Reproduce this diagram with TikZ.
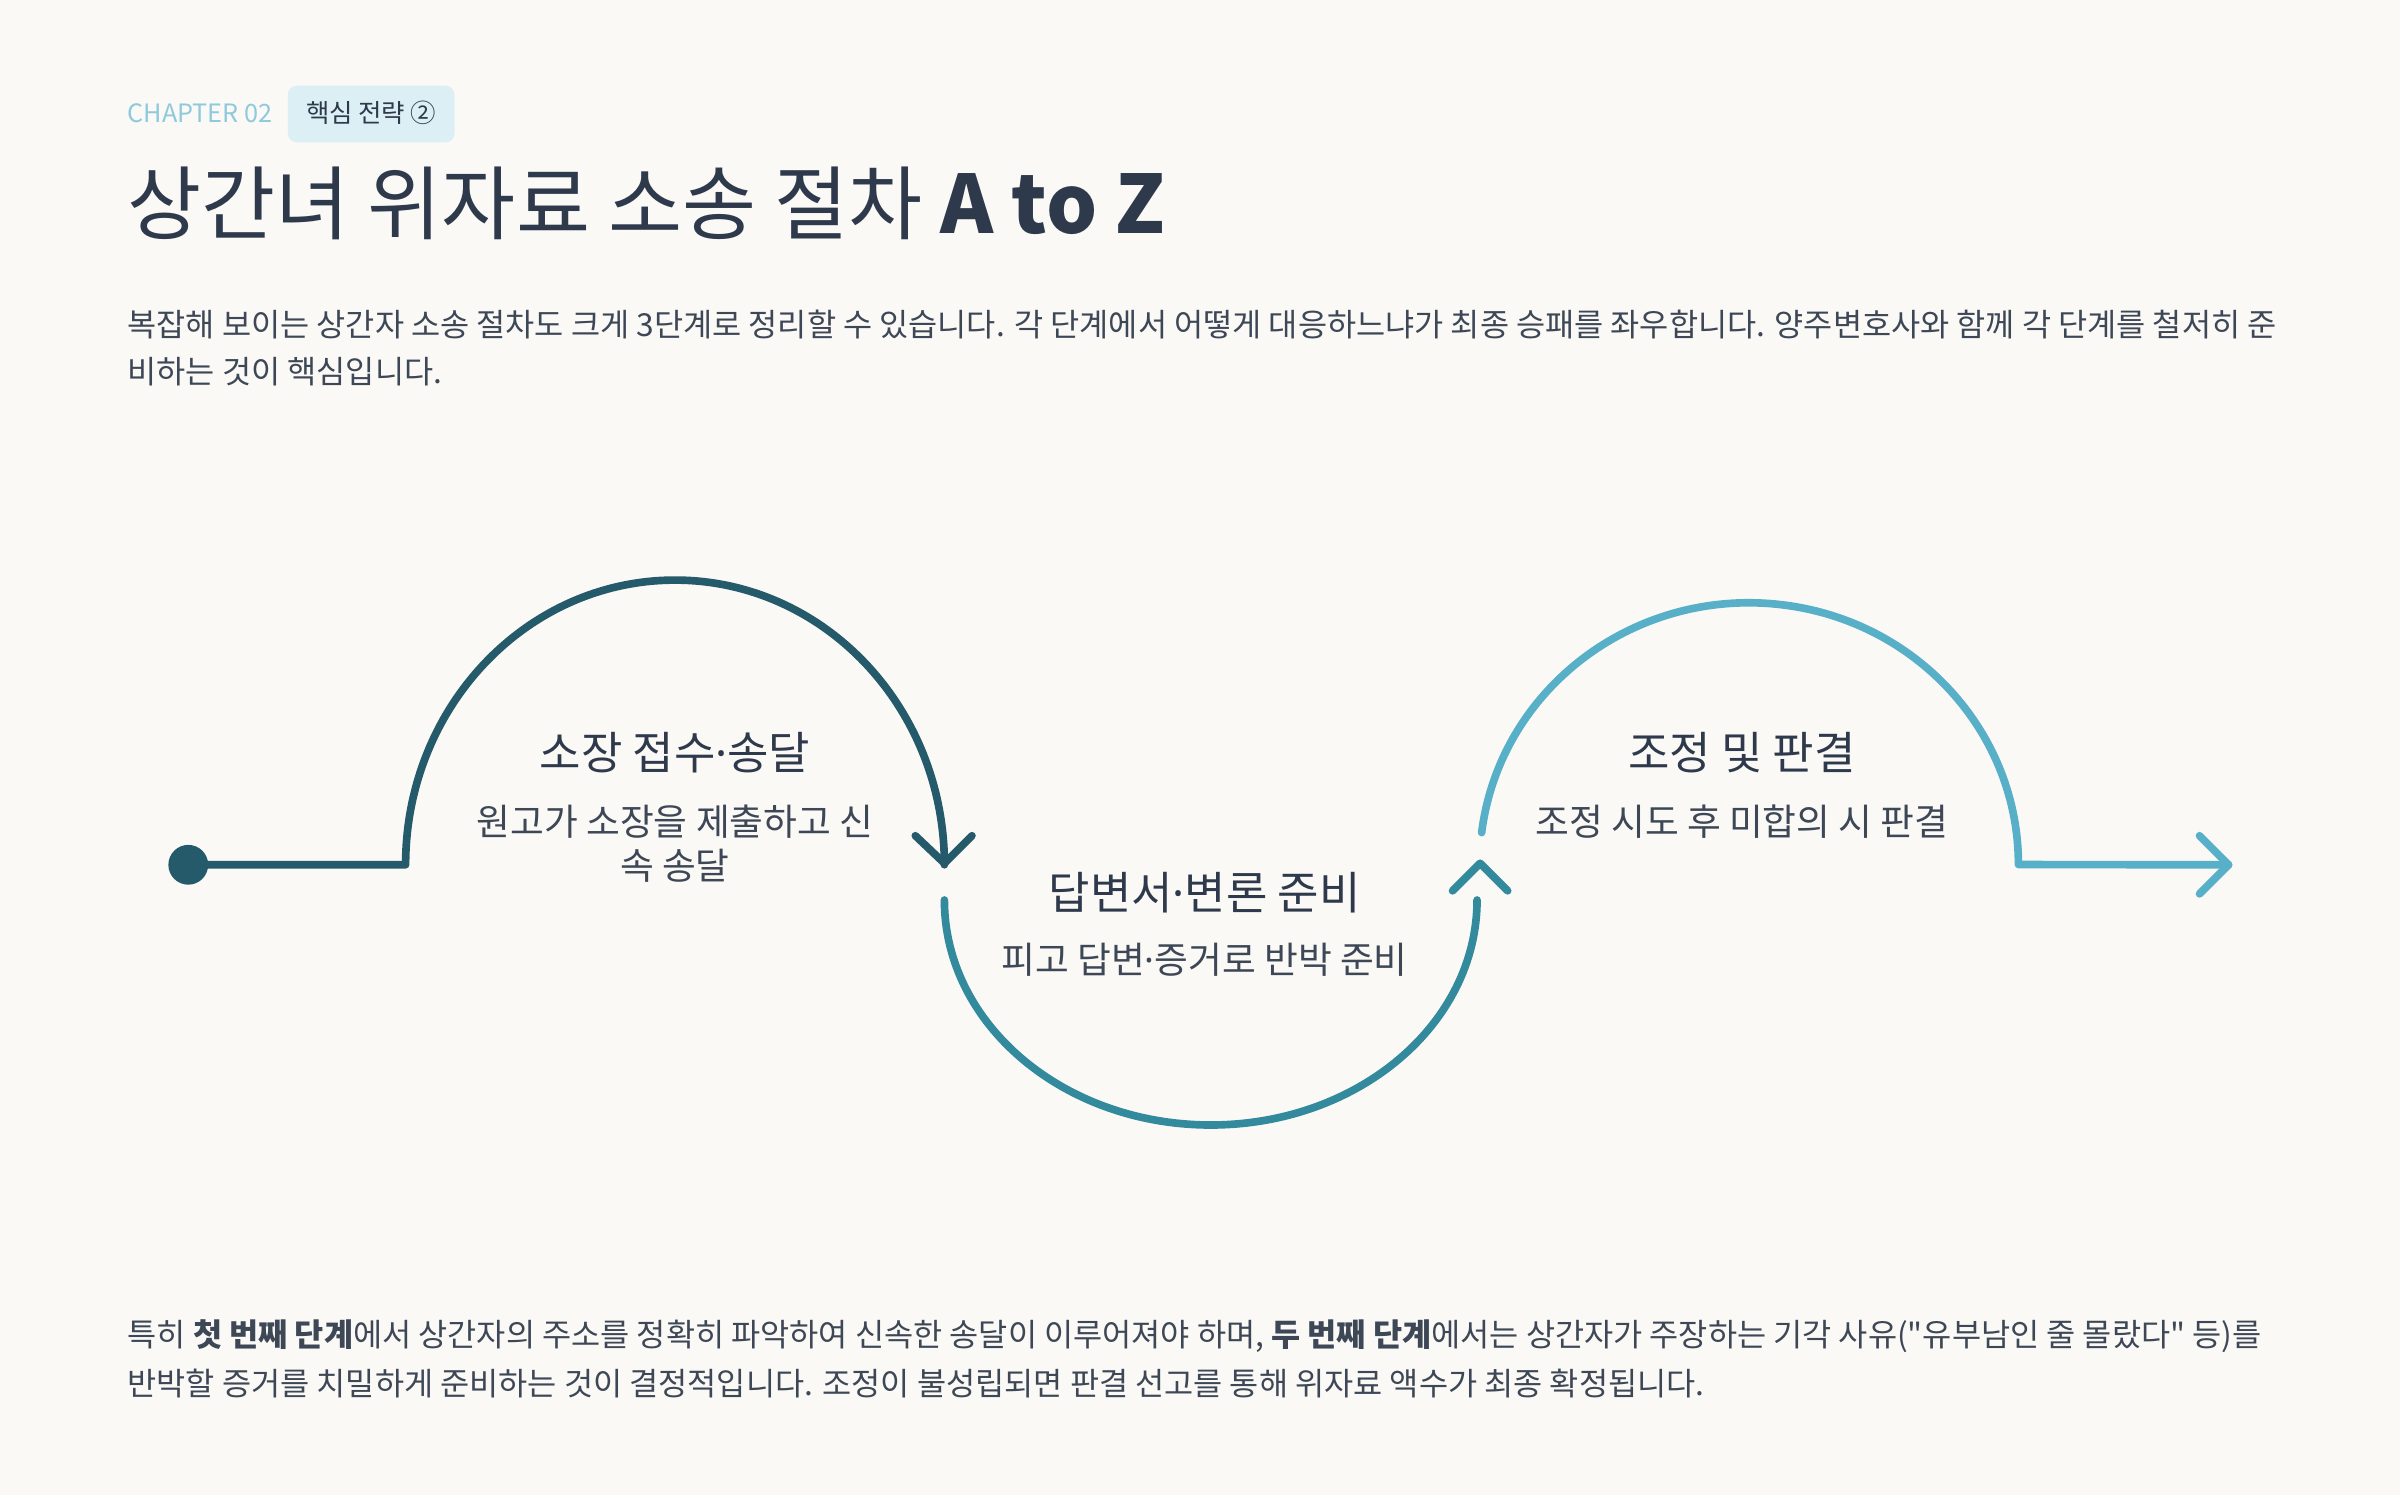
\documentclass[tikz,border=0pt]{standalone}
\usepackage{fontspec}
\setmainfont{Noto Sans CJK KR}[Ligatures=TeXOff]
\newfontfamily\latin{Noto Sans}
\newcommand{\md}{{\latin ·}}
\definecolor{bg}{HTML}{FAF9F6}
\definecolor{ink}{HTML}{2E3A4B}
\definecolor{body}{HTML}{3D4756}
\definecolor{cA}{HTML}{255A6A}
\definecolor{cB}{HTML}{338A9C}
\definecolor{cC}{HTML}{57B0C8}
\definecolor{chap}{HTML}{8ECADB}
\definecolor{badge}{HTML}{DCEFF5}
\begin{document}
\begin{tikzpicture}[x=0.5pt,y=-0.5pt,
  flow/.style={line width=2.5pt,line cap=round,line join=round},
  para/.style={anchor=west,inner sep=0,text=body,font=\fontsize{10.35}{12}\selectfont},
  head/.style={text=ink,font=\fontsize{14.7}{17}\selectfont},
  sub/.style={text=body,font=\fontsize{12}{14.5}\selectfont,align=center}]
\fill[bg] (0,0) rectangle (1568,977);
\useasboundingbox (0,0) rectangle (1568,977);
\node[anchor=west,inner sep=0,text=chap,font=\fontsize{8.25}{10}\selectfont] (chap) at (83,74) {CHAPTER 02};
\fill[badge,rounded corners=3pt] (188,56) rectangle (297,93);
\node[inner sep=0,text=ink,font=\fontsize{8.3}{10}\selectfont] (badge) at (242.5,74) {핵심 전략 ②};
\node[anchor=west,inner sep=0,text=ink,font=\fontsize{26.3}{30}\selectfont] (title) at (83,133) {상간녀 위자료 소송 절차 \textbf{A to Z}};
\node[para] (p1) at (83,212) {복잡해 보이는 상간자 소송 절차도 크게 3단계로 정리할 수 있습니다. 각 단계에서 어떻게 대응하느냐가 최종 승패를 좌우합니다. 양주변호사와 함께 각 단계를 철저히 준};
\node[para] (p2) at (83,243) {비하는 것이 핵심입니다.};
% flow
\fill[cA] (123,565) circle[radius=13];
\coordinate (s) at (123,565);
\draw[flow,cA] (s) -- (265,565) arc[start angle=180,end angle=360,x radius=176,y radius=186];
\draw[flow,cA] (598,546) -- (617,564) -- (635,546);
\draw[flow,cB] (617,588) arc[start angle=180,end angle=0,x radius=174,y radius=147];
\draw[flow,cB] (949,582) -- (967,564) -- (985,582);
\draw[flow,cC] (968,544) arc[start angle=187,end angle=360,x radius=176,y radius=171] -- (1456,565);
\draw[flow,cC] (1437,546) -- (1456,565) -- (1437,584);
\node[head] (h1) at (441,492) {소장 접수\md 송달};
\node[sub] (t1) at (441,551) {원고가 소장을 제출하고 신\\속 송달};
\node[head] (h2) at (787,583) {답변서\md 변론 준비};
\node[sub] (t2) at (787,627) {피고 답변\md 증거로 반박 준비};
\node[head] (h3) at (1138,492) {조정 및 판결};
\node[sub] (t3) at (1138,537) {조정 시도 후 미합의 시 판결};
% bottom
\node[para] (b1) at (83,873) {특히 \textbf{첫 번째 단계}에서 상간자의 주소를 정확히 파악하여 신속한 송달이 이루어져야 하며, \textbf{두 번째 단계}에서는 상간자가 주장하는 기각 사유("유부남인 줄 몰랐다" 등)를};
\node[para] (b2) at (83,904) {반박할 증거를 치밀하게 준비하는 것이 결정적입니다. 조정이 불성립되면 판결 선고를 통해 위자료 액수가 최종 확정됩니다.};
\end{tikzpicture}
\end{document}
